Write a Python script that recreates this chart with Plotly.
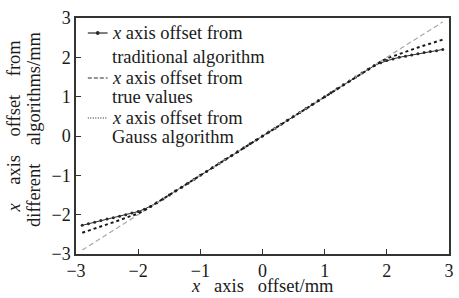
import plotly.graph_objects as go

x_vals = [-2.9, -2.8, -2.7, -2.6, -2.5, -2.4, -2.3, -2.2, -2.1, -2.0,
          -1.9, -1.8, -1.7, -1.6, -1.5, -1.4, -1.3, -1.2, -1.1, -1.0,
          -0.9, -0.8, -0.7, -0.6, -0.5, -0.4, -0.3, -0.2, -0.1, 0.0,
          0.1, 0.2, 0.3, 0.4, 0.5, 0.6, 0.7, 0.8, 0.9, 1.0,
          1.1, 1.2, 1.3, 1.4, 1.5, 1.6, 1.7, 1.8, 1.9, 2.0,
          2.1, 2.2, 2.3, 2.4, 2.5, 2.6, 2.7, 2.8, 2.9]

traditional = [-2.27, -2.23, -2.19, -2.15, -2.11, -2.08, -2.04, -2.0, -1.96, -1.92,
               -1.86, -1.79, -1.7, -1.6, -1.5, -1.4, -1.3, -1.2, -1.1, -1.0,
               -0.9, -0.8, -0.7, -0.6, -0.5, -0.4, -0.3, -0.2, -0.1, 0.0,
               0.1, 0.2, 0.3, 0.4, 0.5, 0.6, 0.7, 0.8, 0.9, 1.0,
               1.1, 1.2, 1.3, 1.4, 1.5, 1.6, 1.7, 1.79, 1.86, 1.92,
               1.96, 2.0, 2.03, 2.06, 2.09, 2.12, 2.15, 2.17, 2.2]

true_values = [-2.9, -2.8, -2.7, -2.6, -2.5, -2.4, -2.3, -2.2, -2.1, -2.0,
               -1.9, -1.8, -1.7, -1.6, -1.5, -1.4, -1.3, -1.2, -1.1, -1.0,
               -0.9, -0.8, -0.7, -0.6, -0.5, -0.4, -0.3, -0.2, -0.1, 0.0,
               0.1, 0.2, 0.3, 0.4, 0.5, 0.6, 0.7, 0.8, 0.9, 1.0,
               1.1, 1.2, 1.3, 1.4, 1.5, 1.6, 1.7, 1.8, 1.9, 2.0,
               2.1, 2.2, 2.3, 2.4, 2.5, 2.6, 2.7, 2.8, 2.9]

gauss = [-2.46, -2.41, -2.36, -2.3, -2.25, -2.19, -2.14, -2.08, -2.03, -1.97,
         -1.89, -1.8, -1.7, -1.6, -1.5, -1.4, -1.3, -1.2, -1.1, -1.0,
         -0.9, -0.8, -0.7, -0.6, -0.5, -0.4, -0.3, -0.2, -0.1, 0.0,
         0.1, 0.2, 0.3, 0.4, 0.5, 0.6, 0.7, 0.8, 0.9, 1.0,
         1.1, 1.2, 1.3, 1.4, 1.5, 1.6, 1.7, 1.8, 1.89, 1.97,
         2.03, 2.08, 2.14, 2.2, 2.25, 2.3, 2.35, 2.4, 2.45]

tick_vals = [-3, -2, -1, 0, 1, 2, 3]

legend_lines = [
    ("<i>x</i> axis offset from", "traditional algorithm"),
    ("<i>x</i> axis offset from", "true values"),
    ("<i>x</i> axis offset from", "Gauss algorithm"),
]

FONT = "Liberation Serif, Times New Roman, DejaVu Serif, serif"
TXT = "#1a1a1a"

COL_TRAD = "#2a2a2a"
COL_TRUE = "#a8a8a8"
COL_GAUSS = "#1a1a1a"

NB = "\u00a0"

fig = go.Figure()
fig.add_trace(go.Scatter(
    x=x_vals, y=traditional, mode="lines+markers", showlegend=False,
    line=dict(color=COL_TRAD, width=1),
    marker=dict(size=3, color=COL_TRAD),
))
fig.add_trace(go.Scatter(
    x=x_vals, y=true_values, mode="lines", showlegend=False,
    line=dict(color=COL_TRUE, width=1.2, dash="5px,3px"),
))
fig.add_trace(go.Scatter(
    x=x_vals, y=gauss, mode="lines", showlegend=False,
    line=dict(color=COL_GAUSS, width=2, dash="dot"),
))

axis_common = dict(
    range=[-3, 3], tickvals=tick_vals, ticks="inside", ticklen=5,
    tickcolor="#333333", showline=True, linecolor="#333333", linewidth=1.5,
    mirror=True, showgrid=False, zeroline=False,
    tickfont=dict(family=FONT, size=18, color=TXT),
)

# manual legend (tight line spacing like the reference)
row_y = [0.9364, 0.8347, 0.7458, 0.6653, 0.5763, 0.4958]
sym_x0, sym_x1, text_x = 0.0317, 0.0847, 0.092
annotations = []
shapes = []
styles = [dict(color=COL_TRAD, width=1.2),
          dict(color=COL_TRAD, width=1.2, dash="4px,2px"),
          dict(color=COL_GAUSS, width=1.2, dash="1px,1.5px")]
for i, (l1, l2) in enumerate(legend_lines):
    y1 = row_y[2 * i]
    y2 = row_y[2 * i + 1]
    annotations.append(dict(text=l1, xref="paper", yref="paper", x=text_x, y=y1,
                            xanchor="left", yanchor="middle", showarrow=False,
                            font=dict(family=FONT, size=18.5, color=TXT)))
    annotations.append(dict(text=l2, xref="paper", yref="paper", x=text_x, y=y2,
                            xanchor="left", yanchor="middle", showarrow=False,
                            font=dict(family=FONT, size=18.5, color=TXT)))
    shapes.append(dict(type="line", xref="paper", yref="paper",
                       x0=sym_x0, x1=sym_x1, y0=y1, y1=y1, line=styles[i]))
    if i == 0:
        cx = (sym_x0 + sym_x1) / 2
        shapes.append(dict(type="circle", xref="paper", yref="paper",
                           x0=cx - 0.005, x1=cx + 0.005, y0=y1 - 0.008, y1=y1 + 0.008,
                           fillcolor=COL_TRAD, line=dict(color=COL_TRAD, width=0)))

annotations.append(dict(text="<i>x</i>" + NB * 2 + " axis" + NB * 2 + " offset/mm",
                        xref="paper", yref="paper",
                        x=0.5, y=-0.136, xanchor="center", yanchor="middle",
                        showarrow=False, font=dict(family=FONT, size=18.5, color=TXT)))
annotations.append(dict(text="<i>x</i>" + NB * 3 + " axis" + NB * 3 + " offset" + NB * 3 + " from",
                        xref="paper", yref="paper", x=-0.165, y=0.542,
                        xanchor="center", yanchor="middle", textangle=-90,
                        showarrow=False, font=dict(family=FONT, size=18.5, color=TXT)))
annotations.append(dict(text="different" + NB * 3 + " algorithms/mm",
                        xref="paper", yref="paper", x=-0.1124, y=0.53,
                        xanchor="center", yanchor="middle", textangle=-90,
                        showarrow=False, font=dict(family=FONT, size=18.5, color=TXT)))

fig.update_layout(
    width=459, height=298,
    margin=dict(l=76, r=5, t=18, b=44),
    paper_bgcolor="white", plot_bgcolor="white",
    font=dict(family=FONT, size=18, color=TXT),
    xaxis=axis_common,
    yaxis=axis_common,
    showlegend=False,
    annotations=annotations,
    shapes=shapes,
)

fig.write_html("out.html", config={"displayModeBar": False},
               post_script="document.body.style.margin='0';document.body.style.overflow='hidden';")
